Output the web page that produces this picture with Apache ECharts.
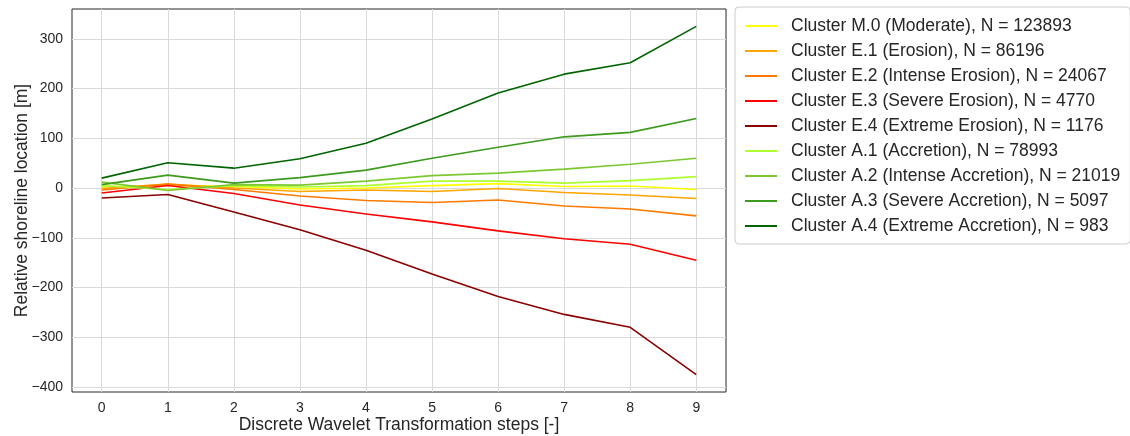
<!DOCTYPE html>
<html>
<head>
<meta charset="utf-8">
<script src="https://cdn.jsdelivr.net/npm/echarts@6/dist/echarts.min.js"></script>
<style>
    html, body { margin: 0; padding: 0; background: #fff; }
    #chart { width: 1130px; height: 436px; }
</style>
</head>
<body>
<div id="chart"></div>
<script>
    // DWT steps on the x axis
    const steps = [0, 1, 2, 3, 4, 5, 6, 7, 8, 9];
    const yTicks = [-400, -300, -200, -100, 0, 100, 200, 300];

    const clusterNames = [
        'Cluster M.0 (Moderate), N = 123893',
        'Cluster E.1 (Erosion), N = 86196',
        'Cluster E.2 (Intense Erosion), N = 24067',
        'Cluster E.3 (Severe Erosion), N = 4770',
        'Cluster E.4 (Extreme Erosion), N = 1176',
        'Cluster A.1 (Accretion), N = 78993',
        'Cluster A.2 (Intense Accretion), N = 21019',
        'Cluster A.3 (Severe Accretion), N = 5097',
        'Cluster A.4 (Extreme Accretion), N = 983'
    ];
    const clusterColors = ['#ffff00', '#ffa500', '#ff7a00', '#ff0000', '#8b0000',
        '#adff2f', '#7cc832', '#3c9a1c', '#006400'];

    // relative shoreline location [m] per step
    const m0 = [2, 6, 3, -2, 0, 5, 9, 3, 4, -3];
    const e1 = [-1, 8, 0, -7, -4, -7, -1, -9, -14, -21];
    const e2 = [-4, 8, -3, -16, -25, -29, -24, -36, -42, -56];
    const e3 = [-10, 5, -11, -34, -52, -68, -86, -102, -113, -145];
    const e4 = [-20, -13, -48, -84, -125, -173, -218, -254, -280, -375];
    const a1 = [5, -3, 5, 2, 5, 14, 14, 10, 15, 23];
    const a2 = [12, -5, 7, 6, 14, 25, 30, 38, 48, 60];
    const a3 = [7, 26, 10, 21, 36, 60, 82, 103, 112, 140];
    const a4 = [20, 51, 40, 59, 90, 139, 191, 229, 252, 325];
    const clusterValues = [m0, e1, e2, e3, e4, a1, a2, a3, a4];

    const textColor = '#262626';
    const font = 'Liberation Sans, Arial, sans-serif';

    const chart = echarts.init(document.getElementById('chart'), null, { renderer: 'canvas' });

    chart.setOption({
        animation: false,
        backgroundColor: '#fff',
        textStyle: { fontFamily: font, color: textColor },
        grid: {
            left: 72, right: 404, top: 9, bottom: 44,
            outerBoundsMode: 'none',
            containLabel: false,
            show: true, borderColor: '#262626', borderWidth: 1,
            backgroundColor: '#fff'
        },
        legend: {
            orient: 'vertical',
            left: 735, top: 7,
            padding: [9, 10, 8, 10],
            icon: 'rect',
            itemWidth: 32, itemHeight: 2, itemGap: 5,
            borderColor: '#cccccc', borderWidth: 1, borderRadius: 4,
            textStyle: {
                fontSize: 17.5, lineHeight: 20, color: textColor, fontFamily: font,
                padding: [0, 0, 0, 9]
            },
            data: clusterNames
        },
        xAxis: {
            type: 'value',
            min: -0.45, max: 9.45,
            name: 'Discrete Wavelet Transformation steps [-]',
            nameLocation: 'middle', nameGap: 24, nameMoveOverlap: false,
            nameTextStyle: { fontSize: 17.5, color: textColor },
            axisLine: { show: false },
            axisTick: { show: false, customValues: steps },
            axisLabel: { customValues: steps, fontSize: 14, color: textColor, margin: 9 },
            splitLine: { show: true, lineStyle: { color: '#dadada', width: 1 } }
        },
        yAxis: {
            type: 'value',
            min: -410, max: 360,
            name: 'Relative shoreline location [m]',
            nameLocation: 'middle', nameGap: 41, nameMoveOverlap: false,
            nameTextStyle: { fontSize: 17.5, color: textColor },
            axisLine: { show: false },
            axisTick: { show: false, customValues: yTicks },
            axisLabel: {
                customValues: yTicks, fontSize: 14, color: textColor, margin: 9,
                formatter: v => (v < 0 ? '\u2212' + Math.abs(v) : String(v))
            },
            splitLine: { show: true, lineStyle: { color: '#dadada', width: 1 } }
        },
        series: clusterNames.map((name, i) => ({
            name: name,
            type: 'line',
            symbol: 'none',
            color: clusterColors[i],
            lineStyle: { width: 1.6 },
            data: steps.map((s, j) => [s, clusterValues[i][j]])
        }))
    });
</script>
</body>
</html>
